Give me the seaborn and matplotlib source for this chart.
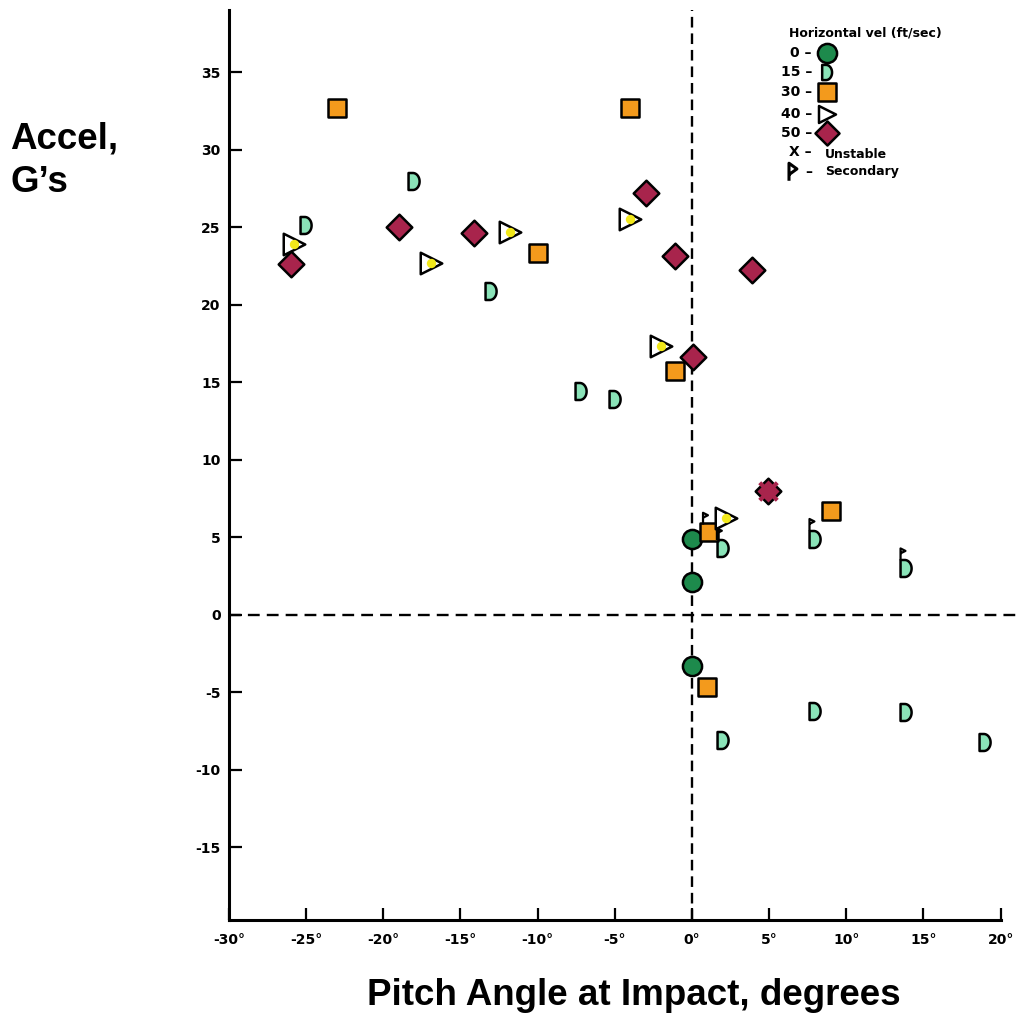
import numpy as np
import matplotlib
matplotlib.use("Agg")
import matplotlib.pyplot as plt
from matplotlib.path import Path
import seaborn as sns

# impact data, grouped by horizontal velocity (ft/sec)
v0_x = [0.0, 0.0, 0.0]
v0_y = [4.9, 2.1, -3.3]

v15_x = [-25.0, -18.0, -13.0, -7.2, -5.0, 2.0, 8.0, 13.9, 2.0, 8.0, 13.9, 19.0]
v15_y = [25.1, 28.0, 20.9, 14.4, 13.9, 4.3, 4.9, 3.0, -8.1, -6.2, -6.3, -8.2]

v30_x = [-23.0, -10.0, -4.0, -1.1, 1.1, 9.0, 1.0]
v30_y = [32.7, 23.3, 32.7, 15.7, 5.3, 6.7, -4.7]

v40_x = [-25.8, -16.9, -11.8, -4.0, -2.0, 2.2]
v40_y = [23.9, 22.7, 24.7, 25.5, 17.3, 6.2]

v50_x = [-26.0, -19.0, -14.1, -3.0, -1.1, 3.9, 0.1, 4.9]
v50_y = [22.6, 25.0, 24.6, 27.2, 23.1, 22.2, 16.6, 8.0]

unstable_x = [4.9]
unstable_y = [8.0]

secondary_x = [1.1, 2.0, 8.0, 13.9]
secondary_y = [5.3, 4.3, 4.9, 3.0]

x_ticks = [-30, -25, -20, -15, -10, -5, 0, 5, 10, 15, 20]
y_ticks = [-15, -10, -5, 0, 5, 10, 15, 20, 25, 30, 35]

c_v0 = "#1d8a4c"
c_v15 = "#8ae3b8"
c_v30 = "#f39a1c"
c_v40 = "#f2e81a"
c_v50 = "#a8244c"

# "D" shaped marker (flat left side, round right side)
t = np.linspace(np.pi / 2, -np.pi / 2, 30)
d_verts = np.vstack([[[-0.35, -0.5], [-0.35, 0.5]],
                     np.column_stack([-0.1 + 0.4 * np.cos(t), 0.5 * np.sin(t)]),
                     [[-0.35, -0.5]]])
d_marker = Path(d_verts, closed=True)

# small "secondary" flag sitting above a point
flag_marker = Path([[-0.6, 0.8], [-0.6, 2.0], [-0.1, 1.75], [-0.6, 1.5]],
                   [Path.MOVETO, Path.LINETO, Path.LINETO, Path.LINETO])
# legend symbol for secondary
flag_key = Path([[0, -1], [0, 1], [0.9, 0.35], [0, -0.3]],
                [Path.MOVETO, Path.LINETO, Path.LINETO, Path.LINETO])

sns.set_style("ticks")
plt.rcParams["font.family"] = ["Liberation Sans", "DejaVu Sans"]
plt.rcParams["text.color"] = "black"
plt.rcParams["xtick.color"] = "black"
plt.rcParams["ytick.color"] = "black"

fig = plt.figure(figsize=(10.16, 10.17), dpi=100)
ax = fig.add_axes([229 / 1016, 97 / 1017, 1 - 229 / 1016, (1017 - 10 - 97) / 1017])

ax.axvline(0, color="black", lw=1.7, ls=(0, (4.5, 2.5)), zorder=1)
ax.axhline(0, color="black", lw=1.7, ls=(0, (5, 3)), zorder=1)

ek = dict(edgecolor="black", linewidth=1.8, zorder=3, legend=False)
sns.scatterplot(x=v0_x, y=v0_y, marker="o", s=190, color=c_v0, ax=ax, **ek)
sns.scatterplot(x=v15_x, y=v15_y, marker=d_marker, s=150, color=c_v15, ax=ax, **ek)
sns.scatterplot(x=v30_x, y=v30_y, marker="s", s=170, color=c_v30, ax=ax, **ek)
sns.scatterplot(x=v40_x, y=v40_y, marker=">", s=240, color="white", ax=ax, **ek)
sns.scatterplot(x=v40_x, y=v40_y, marker="o", s=45, color=c_v40, linewidth=0,
                ax=ax, zorder=4, legend=False)
sns.scatterplot(x=v50_x, y=v50_y, marker="D", s=170, color=c_v50, ax=ax, **ek)
ax.scatter(unstable_x, unstable_y, marker="x", s=160, color=c_v50, linewidths=3, zorder=5)
ax.scatter(secondary_x, secondary_y, marker=flag_marker, s=800, facecolors="none",
           edgecolors="black", linewidths=1.6, zorder=5)

ax.set_xlim(-30, 21)
ax.set_ylim(-19.7, 39)
ax.set_xticks(x_ticks)
ax.set_xticklabels([f"{v}°" for v in x_ticks])
ax.set_yticks(y_ticks)
ax.set_yticklabels([str(v) for v in y_ticks])
ax.tick_params(direction="in", length=9, width=1.6, labelsize=10)
ax.tick_params(axis="x", pad=9)
ax.tick_params(axis="y", pad=6)
for lbl in ax.get_xticklabels() + ax.get_yticklabels():
    lbl.set_fontweight("bold")
    lbl.set_family("DejaVu Sans")

sns.despine(ax=ax)
ax.spines["left"].set_linewidth(2.2)
ax.spines["bottom"].set_linewidth(2.2)
ax.spines["bottom"].set_bounds(-30, 20)
ax.spines["left"].set_color("black")
ax.spines["bottom"].set_color("black")


def fpos(px, py):
    return px / 1016, 1 - py / 1017


fig.text(*fpos(10, 149), "Accel,", ha="left", va="baseline", fontsize=26.5, fontweight="bold")
fig.text(*fpos(10, 192), "G’s", ha="left", va="baseline", fontsize=26.5, fontweight="bold")
fig.text(*fpos(634, 1005), "Pitch Angle at Impact, degrees",
         ha="center", va="baseline", fontsize=26.5, fontweight="bold")

# legend, drawn by hand like the original figure
lf = dict(fontweight="bold", family="DejaVu Sans")
fig.text(*fpos(865, 33), "Horizontal vel (ft/sec)", ha="center", va="center", fontsize=9, **lf)
rows = ["0 –", "15 –", "30 –", "40 –", "50 –"]
row_y = [53, 72, 92, 114, 133]
keys = [("o", c_v0, 190), (d_marker, c_v15, 120), ("s", c_v30, 150),
        (">", "white", 150), ("D", c_v50, 150)]
for lab, py, (mk, col, sz) in zip(rows, row_y, keys):
    fig.text(*fpos(812, py), lab, ha="right", va="center", fontsize=10, **lf)
    ax.scatter(*fpos(827, py), marker=mk, s=sz, color=col, edgecolors="black",
               linewidths=1.8, transform=fig.transFigure, clip_on=False, zorder=5)
fig.text(*fpos(812, 152), "X –", ha="right", va="center", fontsize=10, **lf)
fig.text(*fpos(825, 155), "Unstable", ha="left", va="center", fontsize=9, **lf)
fig.text(*fpos(812, 172), "–", ha="right", va="center", fontsize=10, **lf)
ax.scatter(*fpos(789, 172), marker=flag_key, s=160, facecolors="none", edgecolors="black",
           linewidths=2.2, transform=fig.transFigure, clip_on=False, zorder=5)
fig.text(*fpos(825, 172), "Secondary", ha="left", va="center", fontsize=9, **lf)

fig.savefig("out.png", dpi=100)
